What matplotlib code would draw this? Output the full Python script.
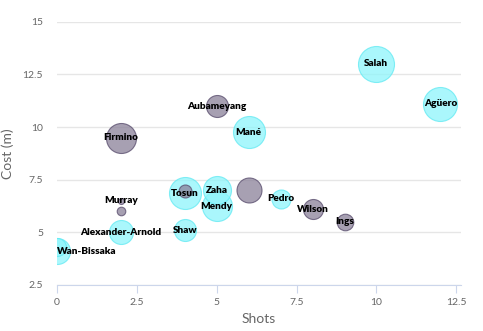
import numpy as np
import matplotlib
matplotlib.use('Agg')
import matplotlib.pyplot as plt

# players: shots, cost and bubble size
players = ["Salah", "Agüero", "Aubameyang", "Mané", "Firmino", "Tosun", "",
           "Zaha", "Mendy", "", "Pedro", "Wilson", "Ings", "Murray", "",
           "Alexander-Arnold", "Shaw", "Wan-Bissaka", ""]
shots = [10, 12, 5, 6, 2, 4, 4, 5, 5, 6, 7, 8, 9, 2, 2, 2, 4, 0, 0]
cost = [13.0, 11.1, 11.0, 9.75, 9.5, 6.85, 6.95, 7.0, 6.25, 7.0, 6.6, 6.1,
        5.5, 6.5, 6.0, 5.0, 5.1, 4.1, 4.3]
size = [18, 17, 11, 16, 15, 16, 6.5, 14, 15, 12.5, 9.5, 10, 8.3, 3, 4.3,
        12, 11, 13, 9]
group = ["c", "c", "g", "c", "g", "c", "g", "c", "c", "g", "c", "g", "g",
         "g", "g", "c", "c", "c", "c"]

fills = {"c": "#8ef5fb", "g": "#8a8199"}
edges = {"c": "#5fe9f2", "g": "#55496a"}

plt.rcParams['font.family'] = ['Lato', 'DejaVu Sans']

fig = plt.figure(figsize=(4.83, 3.31), dpi=100)
ax = fig.add_axes([0.118, 0.139, 0.836, 0.795])

# draw big bubbles first so small ones stay visible on top
order = np.argsort(size)[::-1]
for i in order:
    s = (1.44 * size[i]) ** 2
    ax.scatter(shots[i], cost[i], s=s, color=fills[group[i]],
               edgecolor=edges[group[i]], linewidth=0.8,
               alpha=0.75, zorder=3, clip_on=True)

for i, name in enumerate(players):
    if not name:
        continue
    ha = 'center'
    if shots[i] == 0:
        ha = 'left'
    ax.text(shots[i], cost[i], name, ha=ha, va='center', fontsize=7.2,
            fontweight='heavy', color='black', zorder=5)

ax.set_xlim(0, 12.64)
ax.set_ylim(2.5, 15)
ax.set_xticks([0, 2.5, 5, 7.5, 10, 12.5])
ax.set_xticklabels(["0", "2.5", "5", "7.5", "10", "12.5"])
ax.set_yticks([2.5, 5, 7.5, 10, 12.5, 15])
ax.set_yticklabels(["2.5", "5", "7.5", "10", "12.5", "15"])

ax.grid(axis='y', color='#e6e6e6', linewidth=1, zorder=0)
ax.set_axisbelow(True)
for side in ['top', 'right', 'left']:
    ax.spines[side].set_visible(False)
ax.spines['bottom'].set_color('#ccd6eb')
ax.tick_params(axis='x', colors='#ccd6eb', length=6, labelcolor='#666666',
               labelsize=7.5)
ax.tick_params(axis='y', length=0, labelcolor='#666666', labelsize=7.5, pad=10)

ax.set_xlabel("Shots", fontsize=10, color='#666666', labelpad=4)
ax.set_ylabel("Cost (m)", fontsize=10, color='#666666', labelpad=6)

fig.savefig("out.png", dpi=100)
